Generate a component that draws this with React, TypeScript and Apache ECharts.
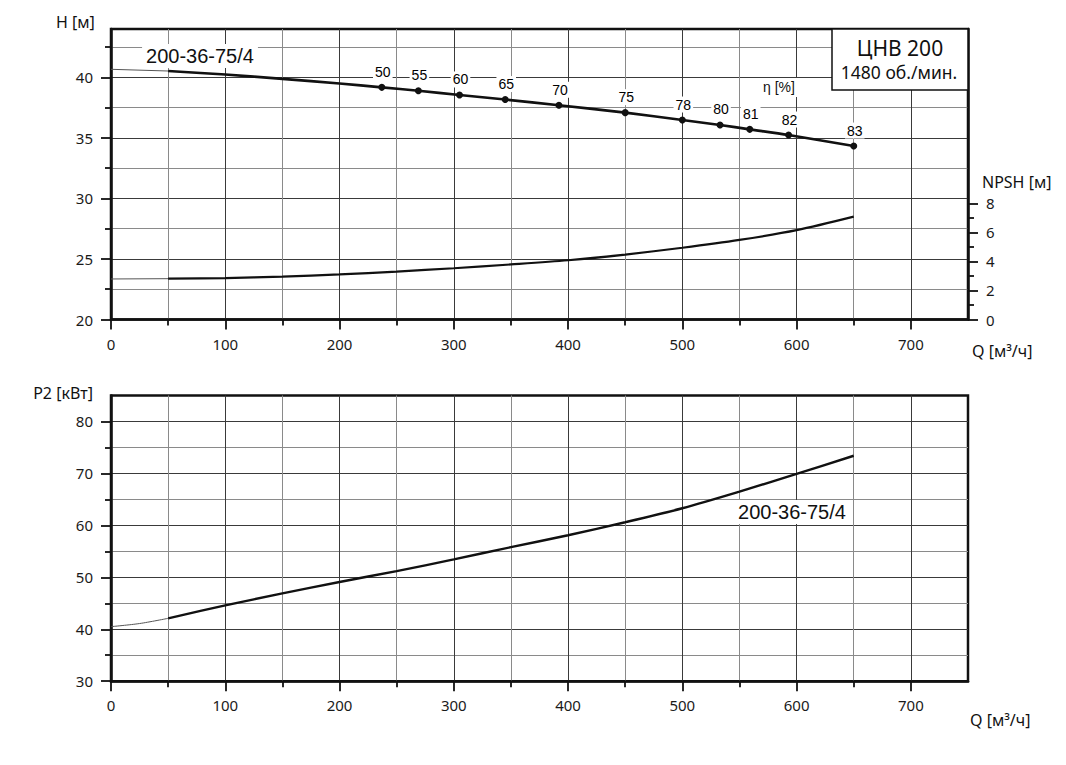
import React, { useEffect, useRef } from "react";
import * as echarts from "echarts";

// ---- tick values ----
const qMajor = [0, 100, 200, 300, 400, 500, 600, 700];
const qMinor = [50, 150, 250, 350, 450, 550, 650];
const hMajor = [20, 25, 30, 35, 40];
const hMinor = [22.5, 27.5, 32.5, 37.5, 42.5];
const npshMajor = [0, 2, 4, 6, 8];
const npshMinor = [1, 3, 5, 7];
const p2Major = [30, 40, 50, 60, 70, 80];
const p2Minor = [35, 45, 55, 65, 75];

// ---- H curve ----
const hQ = [50, 100, 150, 200, 237, 269, 305, 345, 392, 450, 500, 533, 559, 593, 650];
const hVal = [40.53, 40.24, 39.88, 39.5, 39.18, 38.9, 38.55, 38.17, 37.7, 37.09, 36.48, 36.07, 35.71, 35.24, 34.33];
const hExtQ = [0, 50];
const hExtVal = [40.67, 40.53];

// ---- efficiency points ----
const effQ = [237, 269, 305, 345, 392, 450, 500, 533, 559, 593, 650];
const effH = [39.18, 38.9, 38.55, 38.17, 37.7, 37.09, 36.48, 36.07, 35.71, 35.24, 34.33];
const effLabels = ["50", "55", "60", "65", "70", "75", "78", "80", "81", "82", "83"];

// ---- NPSH curve ----
const npshQ = [50, 100, 150, 200, 250, 300, 350, 400, 450, 500, 550, 600, 650];
const npshVal = [2.81, 2.85, 2.95, 3.1, 3.3, 3.53, 3.79, 4.08, 4.47, 4.94, 5.48, 6.15, 7.08];
const npshExtQ = [0, 50];
const npshExtVal = [2.79, 2.81];

// ---- P2 curve ----
const p2Q = [50, 100, 150, 200, 250, 300, 350, 400, 450, 500, 550, 600, 650];
const p2Val = [42.1, 44.6, 46.9, 49.1, 51.2, 53.45, 55.8, 58.1, 60.6, 63.3, 66.5, 69.9, 73.4];
const p2ExtQ = [0, 25, 50];
const p2ExtVal = [40.5, 41.1, 42.1];

const FONT = "'Noto Sans', sans-serif";
const ARIAL = "'Liberation Sans', Arial, sans-serif";
const MAJOR_GRID = "#3a3a3a";
const MINOR_GRID = "#8a8a8a";
const INK = "#111";

const pairs = (xs: number[], ys: number[]) => xs.map((x, i) => [x, ys[i]]);

function axisPair(
  dim: "x" | "y",
  gridIndex: number,
  min: number,
  max: number,
  interval: number,
  major: number[],
  minor: number[],
  position: string,
  split: boolean,
  labelMargin: number
) {
  const base = {
    type: "value",
    gridIndex,
    min,
    max,
    interval,
    position,
    scale: false,
  };
  const majorAxis: any = {
    ...base,
    axisLine: { show: true, onZero: false, lineStyle: { color: INK, width: 2.5 } },
    axisTick: {
      show: true,
      inside: false,
      length: 10,
      customValues: major,
      lineStyle: { color: INK, width: 1.8 },
    },
    axisLabel: {
      show: true,
      customValues: major,
      margin: labelMargin,
      color: "#1a1a1a",
      fontSize: 15,
      fontFamily: FONT,
    },
    splitLine: { show: split, lineStyle: { color: MAJOR_GRID, width: 1 } },
  };
  const minorAxis: any = {
    ...base,
    axisLine: { show: false, onZero: false },
    axisTick: {
      show: true,
      inside: false,
      length: 6,
      customValues: minor,
      lineStyle: { color: INK, width: 1.8 },
    },
    axisLabel: { show: false, customValues: minor },
    splitLine: { show: split, lineStyle: { color: MINOR_GRID, width: 1 } },
  };
  return [majorAxis, minorAxis];
}

function txt(
  text: string,
  x: number,
  y: number,
  size: number,
  family: string,
  align: string,
  bg?: boolean
): any {
  return {
    type: "text",
    x,
    y,
    z: 20,
    style: {
      text,
      x: 0,
      y: 0,
      fill: "#111",
      font: `${size}px ${family}`,
      textAlign: align,
      align,
      textVerticalAlign: "middle",
      verticalAlign: "middle",
      backgroundColor: bg ? "#fff" : undefined,
      padding: bg ? [2, 4] : undefined,
    },
  };
}

export default function App() {
  const ref = useRef<HTMLDivElement>(null);

  useEffect(() => {
    document.body.style.margin = "0";
    if (!ref.current) return;
    const chart = echarts.init(ref.current, undefined, { renderer: "svg" });

    const [x0, x1] = axisPair("x", 0, 0, 750, 50, qMajor, qMinor, "bottom", true, 17);
    const [x2, x3] = axisPair("x", 1, 0, 750, 50, qMajor, qMinor, "bottom", true, 16);
    const [y0, y1] = axisPair("y", 0, 20, 44, 2.5, hMajor, hMinor, "left", true, 18);
    const [y2, y3] = axisPair("y", 0, 0, 20, 1, npshMajor, npshMinor, "right", false, 18);
    const [y4, y5] = axisPair("y", 1, 30, 85, 5, p2Major, p2Minor, "left", true, 18);

    const thick = (w: number) => ({ color: INK, width: w });
    const thin = { color: "#555", width: 1 };

    chart.setOption({
      animation: false,
      textStyle: { fontFamily: FONT },
      grid: [
        {
          left: 111,
          top: 29,
          width: 857,
          height: 290.5,
          show: true,
          borderColor: INK,
          borderWidth: 2.5,
          backgroundColor: "transparent",
          containLabel: false,
        },
        {
          left: 111,
          top: 395.5,
          width: 857,
          height: 285.7,
          show: true,
          borderColor: INK,
          borderWidth: 2.5,
          backgroundColor: "transparent",
          containLabel: false,
        },
      ],
      xAxis: [x0, x1, x2, x3],
      yAxis: [y0, y1, y2, y3, y4, y5],
      series: [
        {
          type: "line",
          xAxisIndex: 0,
          yAxisIndex: 0,
          data: pairs(hExtQ, hExtVal),
          symbol: "none",
          lineStyle: thin,
          z: 3,
        },
        {
          type: "line",
          xAxisIndex: 0,
          yAxisIndex: 0,
          data: pairs(hQ, hVal),
          smooth: 0.3,
          symbol: "none",
          lineStyle: thick(2.6),
          z: 4,
        },
        {
          type: "scatter",
          xAxisIndex: 0,
          yAxisIndex: 0,
          data: effQ.map((q, i) => ({ value: [q, effH[i]], name: effLabels[i] })),
          symbol: "circle",
          symbolSize: 7,
          itemStyle: { color: INK, opacity: 1 },
          z: 5,
          label: {
            show: true,
            position: "top",
            distance: 4,
            offset: [1, 0],
            formatter: (p: any) => p.name,
            fontSize: 14,
            fontFamily: ARIAL,
            color: "#000",
            opacity: 1,
            backgroundColor: "#fff",
            padding: [1, 2],
          },
        },
        {
          type: "line",
          xAxisIndex: 0,
          yAxisIndex: 2,
          data: pairs(npshExtQ, npshExtVal),
          symbol: "none",
          lineStyle: thin,
          z: 3,
        },
        {
          type: "line",
          xAxisIndex: 0,
          yAxisIndex: 2,
          data: pairs(npshQ, npshVal),
          smooth: 0.3,
          symbol: "none",
          lineStyle: thick(2.2),
          z: 4,
        },
        {
          type: "line",
          xAxisIndex: 2,
          yAxisIndex: 4,
          data: pairs(p2ExtQ, p2ExtVal),
          smooth: 0.3,
          symbol: "none",
          lineStyle: thin,
          z: 3,
        },
        {
          type: "line",
          xAxisIndex: 2,
          yAxisIndex: 4,
          data: pairs(p2Q, p2Val),
          smooth: 0.3,
          symbol: "none",
          lineStyle: thick(2.4),
          z: 4,
        },
      ],
      graphic: [
        // title box
        {
          type: "rect",
          z: 15,
          shape: { x: 832, y: 29, width: 136, height: 61 },
          style: { fill: "#fff", stroke: INK, lineWidth: 1.5 },
        },
        txt("ЦНВ 200", 900, 48, 21, FONT, "center"),
        txt("1480 об./мин.", 899, 72, 17.5, FONT, "center"),
        // η label
        {
          type: "rect",
          z: 15,
          shape: { x: 755, y: 78, width: 50, height: 19 },
          style: { fill: "#fff" },
        },
        txt("η [%]", 779, 87, 14, ARIAL, "center"),
        // curve names
        txt("200-36-75/4", 200, 56, 20, ARIAL, "center", true),
        txt("200-36-75/4", 792, 512, 20, ARIAL, "center", true),
        // axis names
        txt("H [м]", 56, 22, 16, FONT, "left"),
        txt("NPSH [м]", 982, 182, 16, FONT, "left"),
        txt("Q [м³/ч]", 972, 351, 16, FONT, "left"),
        txt("P2 [кВт]", 93, 393, 16, FONT, "right"),
        txt("Q [м³/ч]", 970, 720, 16, FONT, "left"),
      ],
    });

    return () => chart.dispose();
  }, []);

  return <div ref={ref} style={{ width: 1066, height: 765 }} />;
}
